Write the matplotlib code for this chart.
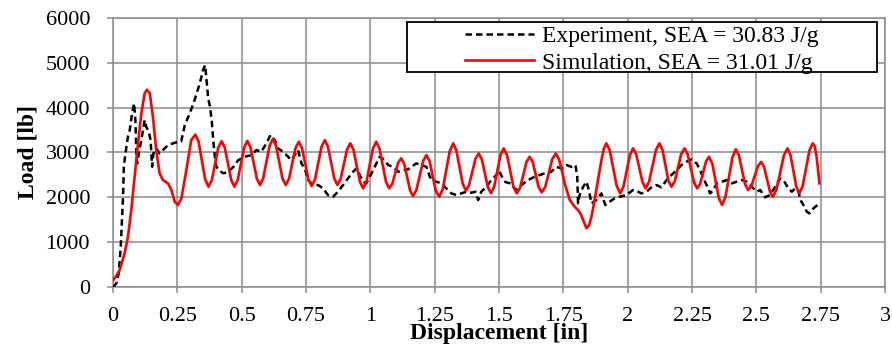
import matplotlib
matplotlib.use("Agg")
import matplotlib.pyplot as plt
from matplotlib.patches import Rectangle

plt.rcParams['font.family'] = ['Liberation Serif', 'DejaVu Serif']

# experiment curve (displacement in, load lb)
exp_x = [0.000, 0.013, 0.022, 0.030, 0.035, 0.039, 0.042, 0.045, 0.052, 0.058,
         0.065, 0.074, 0.082, 0.087, 0.091, 0.094, 0.100, 0.110, 0.123, 0.129,
         0.139, 0.146, 0.152, 0.157, 0.168, 0.181, 0.194, 0.214, 0.233, 0.253,
         0.265, 0.279, 0.298, 0.317, 0.337, 0.350, 0.358, 0.370, 0.377, 0.384,
         0.390, 0.399, 0.410, 0.429, 0.448, 0.468, 0.487, 0.512, 0.538, 0.557,
         0.576, 0.596, 0.612, 0.628, 0.641, 0.661, 0.680, 0.693, 0.706, 0.719,
         0.732, 0.745, 0.758, 0.777, 0.797, 0.816, 0.835, 0.855, 0.874, 0.894,
         0.913, 0.933, 0.946, 0.959, 0.972, 0.984, 0.998, 1.017, 1.036, 1.056,
         1.069, 1.088, 1.108, 1.127, 1.147, 1.159, 1.179, 1.198, 1.218, 1.231,
         1.244, 1.257, 1.276, 1.295, 1.315, 1.334, 1.354, 1.373, 1.393, 1.408,
         1.419, 1.431, 1.451, 1.470, 1.490, 1.500, 1.512, 1.525, 1.542, 1.567,
         1.587, 1.613, 1.639, 1.658, 1.678, 1.703, 1.723, 1.742, 1.762, 1.781,
         1.797, 1.804, 1.807, 1.813, 1.827, 1.840, 1.849, 1.859, 1.878, 1.898,
         1.913, 1.930, 1.949, 1.969, 1.995, 2.021, 2.028, 2.053, 2.073, 2.092,
         2.112, 2.131, 2.151, 2.170, 2.190, 2.209, 2.229, 2.248, 2.268, 2.281,
         2.294, 2.310, 2.320, 2.333, 2.346, 2.366, 2.385, 2.404, 2.424, 2.443,
         2.463, 2.482, 2.502, 2.515, 2.534, 2.553, 2.573, 2.592, 2.605, 2.624,
         2.638, 2.651, 2.664, 2.671, 2.683, 2.696, 2.706, 2.722, 2.737]
exp_y = [0, 80, 300, 900, 1500, 2013, 2680, 2830, 3128, 3350,
         3500, 3870, 4095, 3723, 2905, 2757, 2980, 3277, 3723, 3574,
         3462, 3277, 2682, 2980, 3092, 2980, 3055, 3166, 3204, 3240,
         3250, 3612, 3870, 4170, 4540, 4840, 4950, 4200, 4020, 3686,
         3240, 2720, 2608, 2535, 2570, 2680, 2830, 2905, 2943, 3055,
         3017, 3204, 3390, 3277, 3092, 3017, 2905, 2830, 2943, 3055,
         2757, 2645, 2386, 2274, 2274, 2200, 2051, 2013, 2125, 2274,
         2423, 2570, 2645, 2497, 2348, 2312, 2460, 2680, 2905, 2830,
         2720, 2680, 2570, 2608, 2624, 2680, 2757, 2720, 2680, 2460,
         2348, 2348, 2312, 2200, 2088, 2051, 2088, 2125, 2103, 2125,
         1940, 2125, 2236, 2386, 2500, 2600, 2450, 2340, 2312, 2163,
         2274, 2386, 2460, 2497, 2535, 2570, 2680, 2645, 2720, 2680,
         2720, 2460, 1866, 2051, 2236, 2348, 2163, 1866, 1940, 2088,
         1828, 1903, 1977, 2013, 2051, 2163, 2163, 2088, 2125, 2223,
         2274, 2223, 2386, 2497, 2608, 2720, 2795, 2847, 2757, 2608,
         2423, 2236, 2088, 2163, 2312, 2348, 2386, 2312, 2348, 2386,
         2348, 2236, 2125, 2163, 2000, 2051, 2236, 2423, 2386, 2200,
         2125, 2200, 2125, 1940, 1828, 1680, 1643, 1755, 1828]

# simulation curve
sim_x = [0.000, 0.013, 0.026, 0.045, 0.058, 0.071, 0.084, 0.097, 0.110, 0.123,
         0.132, 0.143, 0.155, 0.168, 0.181, 0.194, 0.214, 0.227, 0.240, 0.252,
         0.266, 0.285, 0.304, 0.320,
         0.333, 0.3455, 0.358, 0.371, 0.384, 0.3965, 0.409, 0.422,
         0.4345, 0.447, 0.4595, 0.472, 0.4845, 0.497, 0.5095, 0.522,
         0.534, 0.5465, 0.559, 0.571, 0.5835, 0.596, 0.6085, 0.621,
         0.6335, 0.646, 0.6585, 0.671, 0.684, 0.6965, 0.709, 0.722,
         0.7345, 0.747, 0.7595, 0.772, 0.785, 0.7975, 0.810, 0.823,
         0.835, 0.8475, 0.860, 0.872, 0.8845, 0.897, 0.9095, 0.922,
         0.9345, 0.947, 0.9595, 0.972, 0.985, 0.9975, 1.010, 1.023,
         1.0355, 1.048, 1.0605, 1.073, 1.085, 1.0965, 1.108, 1.120,
         1.1315, 1.143, 1.1545, 1.166, 1.179, 1.192, 1.205, 1.218,
         1.230, 1.242, 1.254, 1.268, 1.2815, 1.295, 1.3085, 1.322,
         1.334, 1.3465, 1.359, 1.371, 1.3835, 1.396, 1.4085, 1.421,
         1.433, 1.445, 1.457, 1.469, 1.481, 1.4935, 1.506, 1.518,
         1.531, 1.5435, 1.556, 1.569, 1.5815, 1.594, 1.6065, 1.619,
         1.631, 1.6425, 1.654, 1.666, 1.680, 1.6935, 1.707, 1.721,
         1.733, 1.745, 1.755, 1.775, 1.794, 1.807, 1.818, 1.827, 1.840, 1.850,
         1.859, 1.868, 1.878, 1.888, 1.898, 1.907, 1.917,
         1.9305, 1.944, 1.9575, 1.971, 1.9835, 1.996, 2.0085, 2.021,
         2.033, 2.0455, 2.058, 2.070, 2.083, 2.0965, 2.110, 2.123,
         2.135, 2.1465, 2.158, 2.170, 2.183, 2.1955, 2.208, 2.221,
         2.233, 2.2455, 2.258, 2.270, 2.2815, 2.293, 2.3045, 2.316,
         2.329, 2.3415, 2.354, 2.367, 2.380, 2.3935, 2.407, 2.420,
         2.432, 2.444, 2.456, 2.468, 2.481, 2.4935, 2.506, 2.519,
         2.530, 2.5415, 2.553, 2.564, 2.578, 2.5925, 2.607, 2.621,
         2.6325, 2.644, 2.6555, 2.667, 2.680, 2.693, 2.706, 2.719,
         2.726, 2.733, 2.739, 2.745]
sim_y = [150, 250, 380, 750, 1120, 1716, 2460, 3200, 3870, 4320,
         4400, 4320, 3800, 3055, 2535, 2386, 2312, 2163, 1900, 1828,
         1978, 2608, 3277, 3400,
         3230, 2818, 2406, 2236, 2385, 2746, 3106, 3255,
         3106, 2746, 2385, 2236, 2386, 2748, 3110, 3260,
         3116, 2767, 2418, 2274, 2424, 2787, 3150, 3300,
         3150, 2787, 2424, 2274, 2415, 2757, 3099, 3240,
         3095, 2745, 2395, 2250, 2400, 2764, 3127, 3277,
         3131, 2776, 2420, 2274, 2410, 2739, 3068, 3204,
         3057, 2702, 2347, 2200, 2352, 2720, 3088, 3240,
         3088, 2720, 2352, 2200, 2298, 2535, 2772, 2870,
         2747, 2450, 2153, 2030, 2163, 2487, 2810, 2943,
         2807, 2478, 2149, 2013, 2187, 2609, 3030, 3204,
         3050, 2677, 2304, 2150, 2271, 2565, 2859, 2980,
         2850, 2535, 2220, 2090, 2236, 2591, 2946, 3092,
         2945, 2590, 2235, 2088, 2207, 2497, 2786, 2905,
         2789, 2508, 2226, 2110, 2237, 2545, 2853, 2980,
         2850, 2580, 2312, 1940, 1790, 1717, 1620, 1494, 1310, 1380,
         1567, 1830, 2163, 2500, 2830, 3080, 3204,
         3041, 2646, 2251, 2088, 2235, 2590, 2945, 3092,
         2962, 2646, 2330, 2200, 2347, 2702, 3057, 3204,
         3063, 2720, 2377, 2236, 2361, 2664, 2967, 3092,
         2962, 2646, 2330, 2200, 2303, 2553, 2802, 2905,
         2748, 2367, 1985, 1828, 2009, 2449, 2889, 3070,
         2938, 2617, 2295, 2163, 2255, 2477, 2698, 2790,
         2677, 2402, 2126, 2013, 2171, 2553, 2934, 3092,
         2945, 2590, 2235, 2088, 2251, 2646, 3041, 3204,
         3150, 2950, 2650, 2312]

x_ticks = [0, 0.25, 0.5, 0.75, 1, 1.25, 1.5, 1.75, 2, 2.25, 2.5, 2.75, 3]
x_labels = ['0', '0.25', '0.5', '0.75', '1', '1.25', '1.5', '1.75',
            '2', '2.25', '2.5', '2.75', '3']
y_ticks = [0, 1000, 2000, 3000, 4000, 5000, 6000]

exp_label = 'Experiment, SEA = 30.83 J/g'
sim_label = 'Simulation, SEA = 31.01 J/g'

fig = plt.figure(figsize=(8.92, 3.46), dpi=100)
ax = fig.add_axes([0.1267, 0.1705, 0.8655, 0.7775])

grid_col = '#8c8c8c'
ax.plot(exp_x, exp_y, color='black', lw=1.8, linestyle=(0, (2.6, 1.6)),
        label=exp_label, zorder=3)
ax.plot(sim_x, sim_y, color='#ff0000', lw=1.9, label=sim_label, zorder=4)

ax.set_xlim(0, 3)
ax.set_ylim(0, 6000)
ax.set_xticks(x_ticks)
ax.set_xticklabels(x_labels)
ax.set_yticks(y_ticks)
ax.grid(True, color=grid_col, lw=1.1)
ax.set_axisbelow(True)
for s in ax.spines.values():
    s.set_color(grid_col)
    s.set_linewidth(1.1)
ax.tick_params(axis='both', colors=grid_col, labelcolor='black',
               labelsize=16, length=4.5, width=1.1)
ax.tick_params(axis='x', pad=10)
ax.tick_params(axis='y', pad=12)

# label sits low, partly over the tick labels as in the original
ax.set_xlabel('Displacement [in]', fontsize=17, fontweight='bold')
ax.xaxis.set_label_coords(0.5, -0.135)
ax.set_ylabel('Load [lb]', fontsize=17, fontweight='bold')
ax.yaxis.set_label_coords(-0.097, 0.5)

# legend box
ax.add_patch(Rectangle((0.381, 0.80), 0.609, 0.186, transform=ax.transAxes,
                       facecolor='white', edgecolor='black', lw=1.3, zorder=5))
leg = ax.legend(loc='center', bbox_to_anchor=(0.685, 0.882), frameon=False,
                fontsize=17, handlelength=2.9, handletextpad=0.35,
                labelspacing=0.2, borderpad=0.1)
leg.set_zorder(6)

fig.savefig('out.png', dpi=100)
